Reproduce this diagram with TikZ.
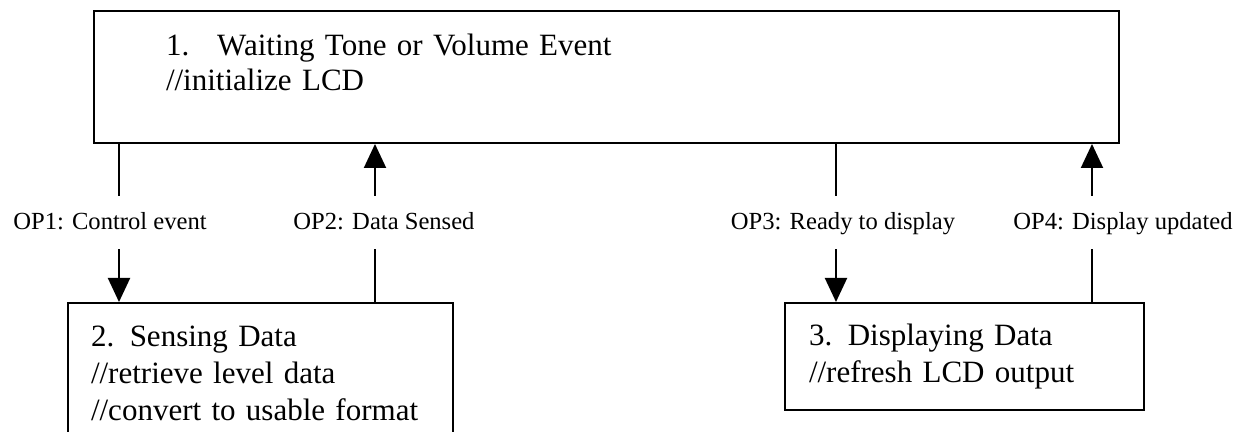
\documentclass[tikz,border=0pt]{standalone}
\usepackage{fontspec}
\setmainfont{Liberation Serif}
\usetikzlibrary{positioning, arrows.meta}

\begin{document}
\begin{tikzpicture}[
			x=0.5pt, y=-0.5pt,
			stage/.style={
				draw,
				rectangle,
				line width=1pt,
				anchor=north west,
				align=left,
				inner ysep=0pt,
				font=\fontsize{15.5}{18.5}\selectfont
			},
			flow/.style={
				line width=1pt,
				-{Triangle[length=12pt, width=11pt]}
			},
			oplabel/.style={
				fill=white,
				inner xsep=2pt,
				inner ysep=0pt,
				text height=9pt,
				text depth=2.5pt,
				minimum height=26.5pt,
				font=\fontsize{12.3}{14}\selectfont
			}
			]
			\clip (0,0) rectangle (1254,432);
			
			% States
			\node[stage, minimum height=66pt, inner xsep=36pt, text width=440.5pt,
				font=\fontsize{15.5}{17.5}\selectfont] (wait) at (93,10)
				{1.\hspace{14pt}Waiting Tone or Volume Event\\//initialize LCD\\[-2.5pt]\mbox{}};
			\node[stage, minimum height=70pt, inner xsep=11.5pt, text width=169.5pt] (sense) at (67,302)
				{2. Sensing Data\\//retrieve level data\\//convert to usable format};
			\node[stage, minimum height=53.5pt, inner xsep=12pt, text width=155.5pt] (show) at (784,302)
				{3. Displaying Data\\//refresh LCD output};
			
			% Columns of the vertical links
			\coordinate (c1) at (119,0);
			\coordinate (c2) at (375,0);
			\coordinate (c3) at (836,0);
			\coordinate (c4) at (1092,0);
			
			% Transitions
			\draw[flow] (wait.south -| c1) -- node[oplabel, xshift=-4.5pt] (op1) {OP1: Control event} (sense.north -| c1);
			\draw[flow] (sense.north -| c2) -- node[oplabel, xshift=4.5pt] (op2) {OP2: Data Sensed} (wait.south -| c2);
			\draw[flow] (wait.south -| c3) -- node[oplabel, xshift=3.5pt] (op3) {OP3: Ready to display} (show.north -| c3);
			\draw[flow] (show.north -| c4) -- node[oplabel, xshift=15.5pt] (op4) {OP4: Display updated} (wait.south -| c4);
		\end{tikzpicture}
\end{document}
